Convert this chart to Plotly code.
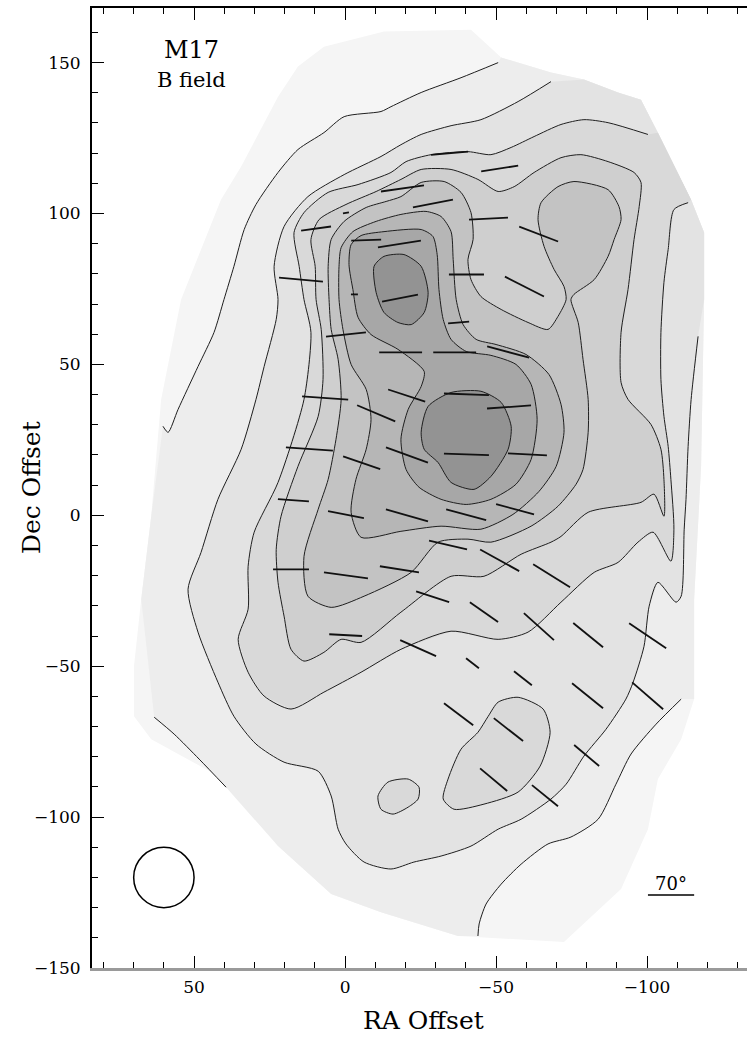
import numpy as np
import plotly.graph_objects as go

# ---------------- data (RA / Dec offsets, arcsec) ----------------
# map coverage (outermost light region)
cov_ra = [-12.9, -41.7, -51.7, -68.2, -79.1, -90.4, -98.0, -103.6, -114.6, -118.9, -118.9, -117.9, -115.6,
          -115.6, -111.3, -103.6, -100.3, -91.4, -72.5, -37.4, -11.9, 4.6, 22.2, 40.1, 64.2, 69.9, 69.9,
          67.5, 64.2, 60.9, 54.3, 47.7, 41.1, 34.4, 22.2, 15.6, 7.0]
cov_dec = [160.3, 160.9, 151.7, 146.7, 144.4, 140.1, 137.7, 126.8, 104.6, 93.7, 71.5, 16.2, -27.8,
           -60.9, -74.2, -87.4, -104.0, -123.8, -141.4, -139.4, -131.5, -125.5, -109.6, -87.4, -74.2, -66.6, -50.0,
           -27.8, -0.3, 38.4, 71.5, 88.1, 104.6, 115.6, 138.7, 148.7, 155.3]

# level 1 contour (three open pieces)
l1a_ra = [60.3, 58.6, 55.3, 48.7, 43.4, 40.1, 36.8, 33.4, 29.5, 22.2, 15.6, 7.0, 0.3, -11.9, -15.2, -25.2, -38.4, -50.7]
l1a_dec = [29.5, 27.5, 35.1, 49.3, 60.6, 71.5, 82.5, 94.7, 103.0, 113.6, 121.2, 126.8, 132.1, 133.8, 135.4, 140.1, 145.0, 150.0]
l1b_ra = [-111.3, -103.0, -94.7, -89.7, -83.8, -74.8, -67.2, -58.3, -51.7, -46.7, -44.4, -44.0]
l1b_dec = [-60.9, -69.2, -79.1, -89.1, -100.7, -106.6, -108.9, -115.6, -122.2, -128.8, -135.4, -139.4]
l1c_ra = [63.2, 56.6, 48.3, 39.4]
l1c_dec = [-66.9, -72.5, -80.8, -90.1]

# level 2 contour (open)
l2_ra = [-116.9, -114.6, -113.6, -112.9, -112.3, -111.3, -109.6, -103.6, -100.7, -99.0, -95.4, -93.0, -86.4, -79.1,
         -73.2, -68.2, -58.3, -50.7, -41.7, -31.8, -22.8, -15.2, -6.3, -0.3, 2.3, 4.6, 8.9, 20.2, 29.5, 36.8, 42.1,
         48.7, 52.0, 47.7, 42.1, 34.4, 29.5, 26.8, 22.8, 22.2, 23.5, 20.2, 12.3, 0.3, -11.9, -18.5, -25.2, -35.1,
         -45.0, -57.3, -68.2]
l2_dec = [59.3, 38.4, 22.8, 5.3, -4.6, -26.8, -28.8, -22.2, -30.1, -43.4, -55.3, -60.9, -70.9, -79.8,
          -89.1, -94.0, -100.7, -104.0, -109.6, -112.9, -114.9, -117.2, -114.9, -108.9, -104.0, -93.0, -84.8, -81.8,
          -75.8, -66.6, -55.3, -38.7, -24.5, -12.3, 5.3, 21.9, 38.4, 49.3, 64.9, 71.5, 82.5, 95.7, 105.6, 112.9,
          118.9, 122.8, 126.2, 129.1, 131.1, 137.1, 143.7]

# level 3 contour (open) plus two closed islands
l3_ra = [-113.6, -108.9, -107.0, -105.6, -104.6, -104.6, -105.6, -107.0, -107.9, -108.9, -107.9, -102.0, -97.0,
         -90.4, -82.5, -71.5, -60.6, -50.7, -35.1, -18.5, -5.3, 7.0, 17.9, 26.8, 32.1, 35.4, 32.1, 32.1, 30.1,
         22.2, 13.6, 11.3, 13.6, 15.2, 16.9, 13.6, 5.6, -4.3, -15.2, -20.2, -28.5, -40.7, -48.3, -55.0, -62.6,
         -71.5, -79.1, -87.1, -100.3]
l3_dec = [103.6, 101.3, 88.1, 77.2, 60.6, 45.0, 32.8, 22.8, 11.9, -4.6, -15.2, -5.6, -8.9, -15.6, -18.9, -28.8,
          -38.7, -41.1, -38.4, -44.4, -52.0, -58.6, -64.2, -59.9, -52.0, -41.1, -31.1, -16.9, -5.6, 10.9, 38.4,
          60.6, 71.5, 82.5, 93.7, 100.3, 107.0, 109.6, 113.6, 117.2, 119.5, 120.5, 119.5, 121.9, 125.5, 129.5,
          131.1, 130.1, 126.2]
l3s_ra = [-57.3, -65.6, -67.9, -64.6, -57.3, -46.0, -36.1, -32.5, -34.1, -38.4, -44.0, -47.4, -50.7]
l3s_dec = [-60.3, -64.2, -71.9, -83.1, -91.7, -95.7, -97.4, -94.0, -87.4, -77.5, -71.9, -66.6, -61.9]
l3t_ra = [-10.9, -14.2, -20.9, -24.5, -24.2, -20.9, -15.9, -11.9]
l3t_dec = [-93.0, -88.4, -87.4, -90.1, -94.0, -96.7, -99.0, -97.4]

# level 4 (closed)
l4_ra = [9.9, 11.3, 8.6, -0.3, -10.3, -18.5, -25.2, -35.1, -44.0, -50.7, -56.0, -62.6, -71.5, -78.1, -87.1,
         -95.7, -98.0, -97.4, -95.7, -93.7, -91.4, -91.4, -93.7, -101.3, -104.6, -105.6, -105.6, -102.3, -98.0,
         -80.5, -71.5, -68.2, -58.3, -46.0, -35.1, -18.5, -5.3, 1.3, 7.0, 13.6, 17.9, 20.2, 22.2, 22.8, 21.2,
         15.6, 8.9, 7.3, 7.9, 9.6]
l4_dec = [82.5, 91.4, 98.0, 103.0, 107.3, 111.3, 114.6, 114.6, 111.3, 107.3, 108.9, 113.6, 118.5, 119.5, 117.2,
          113.6, 110.3, 102.3, 91.4, 74.8, 60.6, 44.0, 38.4, 30.1, 21.9, 11.9, -0.3, 7.0, 4.3, 1.0, -7.0, -8.9,
          -12.9, -20.2, -20.2, -32.1, -42.1, -41.1, -45.4, -48.3, -44.4, -33.4, -22.2, -11.3, -0.3, 16.2, 32.8,
          45.0, 61.6, 71.5]

# level 5 (closed, ridge + NE lobe)
l5_ra = [5.6, 4.6, 0.3, -7.0, -13.6, -18.5, -25.2, -32.8, -38.4, -41.7, -42.4, -40.7, -41.7, -45.0, -51.7,
         -60.6, -67.2, -70.5, -73.2, -72.5, -69.2, -65.9, -63.9, -64.9, -70.5, -75.8, -87.1, -90.7, -91.4,
         -89.1, -87.1, -82.5, -75.8, -74.8, -77.2, -78.8, -80.5, -80.5, -78.8, -76.5, -70.5, -61.6, -48.3,
         -40.7, -30.8, -21.9, -6.3, 4.6, 12.3, 13.6, 8.9, 5.6, 3.0, 1.3, 2.3, 4.6, 5.3]
l5_dec = [82.5, 91.4, 97.4, 102.0, 104.0, 105.6, 110.3, 110.6, 107.0, 100.3, 91.4, 84.8, 78.1, 72.5, 68.2,
          63.9, 61.6, 65.9, 71.5, 75.8, 81.5, 89.1, 98.0, 103.6, 108.9, 110.6, 107.9, 102.3, 98.0, 91.4, 85.8,
          78.1, 73.2, 71.5, 63.9, 51.7, 38.4, 27.5, 15.2, 10.3, 3.0, -3.6, -8.9, -7.9, -8.9, -18.9, -26.8,
          -30.5, -26.8, -13.6, 2.0, 11.9, 25.2, 38.4, 51.7, 61.6, 71.5]

# level 6 (closed)
l6_ra = [2.0, 1.3, -2.6, -10.3, -18.5, -26.8, -31.8, -35.1, -35.8, -36.8, -39.1, -43.4, -50.0, -59.9, -67.5,
         -71.5, -72.5, -69.9, -64.2, -55.6, -45.0, -31.8, -18.5, -5.3, -2.0, -3.6, -7.0, -8.6, -7.0, -2.0, 0.7, 2.0]
l6_dec = [82.5, 88.7, 94.0, 97.4, 99.7, 100.7, 99.0, 94.0, 84.8, 71.5, 63.2, 58.3, 56.6, 53.3, 46.7,
          36.8, 27.5, 16.2, 7.9, 0.3, -4.6, -3.6, -5.3, -7.3, 1.0, 11.9, 21.9, 31.8, 41.7, 50.0, 61.6, 71.5]

# level 7 (closed, both peaks)
l7_ra = [-2.0, -5.3, -12.9, -25.2, -29.1, -30.5, -31.1, -32.5, -35.1, -40.1, -48.3, -56.6, -61.6, -63.6, -61.6,
         -56.6, -48.3, -40.1, -31.8, -24.5, -20.2, -18.5, -20.9, -25.2, -26.2, -17.5, -8.6, -4.3, -2.6, -1.3]
l7_dec = [89.7, 92.7, 94.0, 94.7, 92.4, 86.4, 74.8, 64.9, 58.3, 54.3, 53.0, 50.0, 43.4, 31.8, 18.5,
          10.3, 5.3, 3.6, 5.3, 9.3, 15.2, 25.2, 35.1, 42.7, 47.7, 55.0, 59.9, 65.6, 74.8, 83.1]

# level 8 (two peaks)
l8n_ra = [-9.6, -12.9, -19.5, -25.2, -27.5, -26.2, -21.9, -17.5, -12.9, -10.3]
l8n_dec = [82.5, 85.8, 86.4, 82.5, 73.8, 67.2, 63.2, 63.9, 67.2, 73.8]
l8s_ra = [-25.2, -27.5, -35.1, -45.0, -51.7, -55.0, -54.0, -48.3, -42.7, -35.1, -30.8, -26.2]
l8s_dec = [27.5, 36.1, 40.7, 41.1, 37.4, 29.5, 21.9, 12.9, 8.6, 10.9, 17.5, 21.9]

# polarization (B-field) vectors: centre, length, position angle (deg E of N)
vec_ra = [-34.6, -51.2, -19.0, -29.1, -0.3, 9.6, -7.0, -18.0, -47.5, -64.1, 14.6, -3.1, -18.2, -40.2, -59.4,
          -37.6, -0.3, -18.4, -36.3, -54.0, 6.6, -10.3, -20.4, -40.2, -54.3, 11.8, -5.5, -20.5, -40.2, -60.4,
          17.1, -0.3, -20.5, -40.1, -56.3, 17.9, -0.3, -18.0, -34.1, -51.2, -68.4, -0.2, -29.0, -24.2, -46.0,
          -64.2, -80.5, -100.2, -42.2, -58.9, -80.3, -100.2, -37.6, -54.1, -80.0, -49.2, -66.2]
vec_dec = [120.0, 114.9, 108.3, 103.3, 100.2, 95.0, 91.2, 89.9, 98.3, 93.2, 78.1, 73.2, 72.0, 79.8, 75.8,
           63.9, 59.9, 54.0, 54.0, 54.1, 38.9, 33.8, 39.7, 40.1, 35.9, 22.0, 17.4, 20.0, 20.2, 20.2,
           5.0, 0.2, 0.0, 0.2, 2.0, -17.9, -19.9, -17.9, -9.8, -14.9, -20.0, -39.7, -27.0, -44.0, -32.1,
           -36.9, -39.7, -39.9, -49.0, -54.0, -59.8, -59.8, -65.9, -71.0, -79.6, -87.6, -92.9]
vec_len = [12.3, 12.4, 14.4, 13.5, 2.0, 10.0, 9.9, 14.4, 12.9, 13.8, 14.6, 2.3, 12.1, 11.6, 14.5,
           7.0, 13.3, 14.2, 14.2, 14.4, 15.3, 13.7, 12.9, 14.9, 14.6, 15.6, 13.0, 14.8, 14.9, 12.9,
           10.3, 12.1, 14.5, 13.7, 13.0, 11.9, 14.7, 13.1, 12.9, 14.8, 14.4, 10.9, 11.5, 13.0, 11.4,
           13.4, 12.7, 14.8, 5.4, 7.5, 13.2, 13.6, 12.1, 12.3, 10.8, 11.7, 11.1]
vec_pa = [95, 99, 98, 101, 99, 98, 92, 99, 93, 69, 85, 90, 101, 90, 63,
          95, 96, 90, 90, 75, 86, 67, 72, 88, 94, 86, 71, 70, 88, 87,
          86, 79, 74, 75, 75, 90, 82, 81, 77, 61, 58, 87, 72, 66, 55,
          48, 51, 56, 52, 52, 51, 49, 53, 52, 50, 50, 51]

beam_ra, beam_dec, beam_radius = 60.0, -120.0, 10.0
scale_label = "70°"

# ---------------- styling ----------------
SHADES = ['#f5f5f5', '#ededed', '#e3e3e3', '#d9d9d9', '#cfcfcf', '#c3c3c3', '#b6b6b6', '#a7a7a7', '#939393']
LINE = '#1e1e1e'
FONT = 'DejaVu Serif'

fig = go.Figure()


def add_fill(ra, dec, color, with_line=False, spline=False):
    xs = list(ra) + [ra[0]]
    ys = list(dec) + [dec[0]]
    fig.add_trace(go.Scatter(
        x=xs, y=ys, mode='lines', fill='toself', fillcolor=color,
        line=dict(color=LINE if with_line else 'rgba(0,0,0,0)', width=1.0,
                  shape='spline' if spline else 'linear', smoothing=0.7),
        hoverinfo='skip', showlegend=False))


def add_line(ra, dec):
    fig.add_trace(go.Scatter(
        x=ra, y=dec, mode='lines',
        line=dict(color=LINE, width=1.0, shape='spline', smoothing=0.7),
        hoverinfo='skip', showlegend=False))


# coverage
add_fill(cov_ra, cov_dec, SHADES[0])
# level 1 region: contour pieces joined along the coverage edge
l1_ra = l1a_ra + cov_ra[2:14] + l1b_ra + cov_ra[19:23] + l1c_ra[::-1] + cov_ra[27:29]
l1_dec = l1a_dec + cov_dec[2:14] + l1b_dec + cov_dec[19:23] + l1c_dec[::-1] + cov_dec[27:29]
add_fill(l1_ra, l1_dec, SHADES[1])
# level 2 region
add_fill(l2_ra + cov_ra[4:11], l2_dec + cov_dec[4:11], SHADES[2])
# level 3 region
add_fill(l3_ra + cov_ra[7:9], l3_dec + cov_dec[7:9], SHADES[3])
add_line(l1a_ra, l1a_dec)
add_line(l1b_ra, l1b_dec)
add_line(l1c_ra, l1c_dec)
add_line(l2_ra, l2_dec)
add_line(l3_ra, l3_dec)
add_fill(l3s_ra, l3s_dec, SHADES[3], True, True)
add_fill(l3t_ra, l3t_dec, SHADES[3], True, True)
add_fill(l4_ra, l4_dec, SHADES[4], True, True)
add_fill(l5_ra, l5_dec, SHADES[5], True, True)
add_fill(l6_ra, l6_dec, SHADES[6], True, True)
add_fill(l7_ra, l7_dec, SHADES[7], True, True)
add_fill(l8n_ra, l8n_dec, SHADES[8], True, True)
add_fill(l8s_ra, l8s_dec, SHADES[8], True, True)

# vectors
vx, vy = [], []
for ra, dec, ln, pa in zip(vec_ra, vec_dec, vec_len, vec_pa):
    t = np.radians(pa)
    dxr = 0.5 * ln * np.sin(t)
    dyr = 0.5 * ln * np.cos(t)
    vx += [ra + dxr, ra - dxr, None]
    vy += [dec + dyr, dec - dyr, None]
fig.add_trace(go.Scatter(x=vx, y=vy, mode='lines', line=dict(color='#111111', width=1.8),
                         hoverinfo='skip', showlegend=False))

# invisible trace for the top axis
fig.add_trace(go.Scatter(x=[0], y=[0], xaxis='x2', mode='markers', marker=dict(opacity=0),
                         hoverinfo='skip', showlegend=False))

XR = [83.8, -133.1]
YR = [-150, 168.1]
tickfont = dict(family=FONT, size=17, color='black')

fig.update_layout(
    width=747, height=1038,
    margin=dict(l=92, r=0, t=8, b=70),
    paper_bgcolor='white', plot_bgcolor='white',
    xaxis=dict(range=XR, showgrid=False, zeroline=False, showline=True, linecolor='#9a9a9a', linewidth=3,
               ticks='inside', ticklen=12, tickwidth=1.3, tickcolor='black', tick0=0, dtick=50,
               minor=dict(ticks='inside', ticklen=6, tickwidth=1, tickcolor='black', dtick=10, showgrid=False),
               tickfont=tickfont, ticklabelstandoff=2),
    xaxis2=dict(range=XR, overlaying='x', side='top', showgrid=False, zeroline=False, showline=True,
                linecolor='black', linewidth=1.5, ticks='inside', ticklen=12, tickwidth=1.3, tickcolor='black',
                tick0=0, dtick=50, showticklabels=False,
                minor=dict(ticks='inside', ticklen=6, tickwidth=1, tickcolor='black', dtick=10, showgrid=False)),
    yaxis=dict(range=YR, showgrid=False, zeroline=False, showline=True, linecolor='black', linewidth=2,
               ticks='inside', ticklen=12, tickwidth=1.3, tickcolor='black', tick0=0, dtick=50,
               minor=dict(ticks='inside', ticklen=6, tickwidth=1, tickcolor='black', dtick=10, showgrid=False),
               tickfont=tickfont, ticklabelstandoff=6),
    shapes=[
        dict(type='circle', xref='x', yref='y', x0=beam_ra + beam_radius, x1=beam_ra - beam_radius,
             y0=beam_dec - beam_radius, y1=beam_dec + beam_radius, line=dict(color='black', width=1.5)),
        dict(type='line', xref='x', yref='y', x0=-100.3, x1=-115.6, y0=-125.8, y1=-125.8,
             line=dict(color='black', width=1.5)),
    ],
    annotations=[
        dict(text='M17', x=51.0, y=154.3, xref='x', yref='y', showarrow=False,
             font=dict(family=FONT, size=24, color='black')),
        dict(text='B field', x=51.0, y=144.4, xref='x', yref='y', showarrow=False,
             font=dict(family=FONT, size=21, color='black')),
        dict(text=scale_label, x=-108.0, y=-122.0, xref='x', yref='y', showarrow=False,
             font=dict(family=FONT, size=18, color='black')),
        dict(text='RA Offset', x=(423 - 92) / 655, y=(968 - 1020) / 960, xref='paper', yref='paper',
             showarrow=False, xanchor='center', yanchor='middle',
             font=dict(family=FONT, size=25, color='black')),
        dict(text='Dec Offset', x=(31 - 92) / 655, y=0.5, xref='paper', yref='paper', textangle=-90,
             showarrow=False, xanchor='center', yanchor='middle',
             font=dict(family=FONT, size=25, color='black')),
    ],
)

fig.write_html('out.html', config={'displayModeBar': False},
               post_script="document.body.style.margin='0';document.body.style.overflow='hidden';")
